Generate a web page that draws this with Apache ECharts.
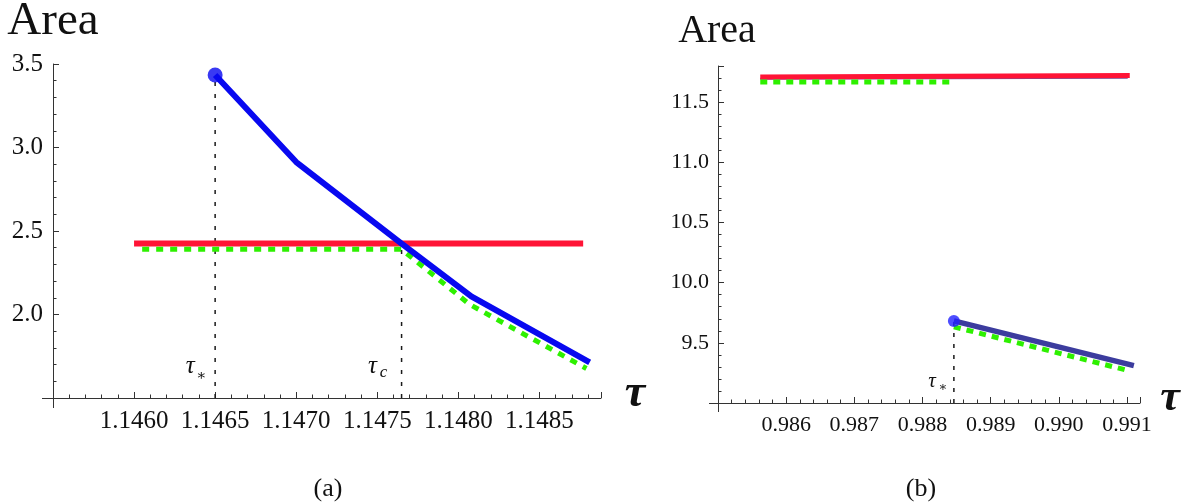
<!DOCTYPE html>
<html>
<head>
<meta charset="utf-8">
<script src="https://cdn.jsdelivr.net/npm/echarts@6/dist/echarts.min.js"></script>
<style>html,body{margin:0;padding:0;background:#fff;}#c{width:1182px;height:502px;}</style>
</head>
<body>
<div id="c"></div>
<script>
// ---------- Panel (a) data ----------
const aBlueX  = [1.1465, 1.1470, 1.14765, 1.14808, 1.14881];
const aBlueY  = [3.434, 2.913, 2.425, 2.108, 1.713];
const aRedX   = [1.1460, 1.14877];
const aRedY   = [2.425, 2.425];
const aGreenX = [1.14605, 1.14765, 1.14807, 1.14879];
const aGreenY = [2.39, 2.39, 2.06, 1.677];
const aTauStar = 1.1465;
const aTauStarTop = 3.434;
const aTauC = 1.14765;
const aTauCTop = 2.39;
const aXRange = [1.1455, 1.14888];
const aYRange = [1.5, 3.5];

// ---------- Panel (b) data ----------
const bRedX     = [0.98562, 0.99104];
const bRedY     = [11.708, 11.722];
const bUpBlueX  = [0.98562, 0.99101];
const bUpBlueY  = [11.695, 11.703];
const bUpGreenX = [0.98562, 0.98846];
const bUpGreenY = [11.668, 11.668];
const bLowBlueX = [0.98846, 0.99110];
const bLowBlueY = [9.682, 9.31];
const bLowGreenX = [0.98846, 0.99103];
const bLowGreenY = [9.633, 9.268];
const bTauStar = 0.98846;
const bTauStarTop = 9.682;
const bXRange = [0.985, 0.99119];
const bYRange = [9.0, 11.8];

const zip = (xs, ys) => xs.map((x, i) => [x, ys[i]]);
const FONT = "'Liberation Serif', 'DejaVu Serif', serif";
const AX = '#333';

function valAxis(gi, range, interval, digits, fs, showMax, margin) {
  return {
    type: 'value', gridIndex: gi, min: range[0], max: range[1], interval: interval,
    axisLine: { show: true, lineStyle: { color: AX, width: 1 } },
    axisTick: { show: true, inside: true, length: 6, lineStyle: { color: AX, width: 1 } },
    minorTick: { show: true, splitNumber: 5, length: 3.5, lineStyle: { color: AX, width: 1 } },
    splitLine: { show: false },
    axisLabel: {
      show: true, showMinLabel: false, showMaxLabel: showMax, margin: margin,
      color: '#111', fontFamily: FONT, fontSize: fs,
      formatter: v => Number(v).toFixed(digits)
    }
  };
}

const option = {
  animation: false,
  backgroundColor: '#fff',
  textStyle: { fontFamily: FONT },
  grid: [
    { left: 53, top: 64, width: 548, height: 334 },
    { left: 718, top: 66, width: 422, height: 337 }
  ],
  xAxis: [
    valAxis(0, aXRange, 0.0005, 4, 25, false, 11),
    valAxis(1, bXRange, 0.001, 3, 22, false, 11)
  ],
  yAxis: [
    valAxis(0, aYRange, 0.5, 1, 25, true, 10),
    valAxis(1, bYRange, 0.5, 1, 22, false, 9)
  ],
  series: []
};

function line(gi, data, color, width, type, z) {
  return {
    type: 'line', xAxisIndex: gi, yAxisIndex: gi, data: data,
    showSymbol: false, symbol: 'none', silent: true, clip: false,
    lineStyle: { color: color, width: width, type: type || 'solid', cap: 'butt' },
    z: z || 2
  };
}
const RED = '#ff1436', GREEN = '#2ef000', BLUE = '#0808f0', DBLUE = '#3c3c9e';

option.series.push(
  line(0, [[aTauStar, aYRange[0]], [aTauStar, aTauStarTop]], '#1a1a1a', 1.5, [4, 8], 1),
  line(0, [[aTauC, aYRange[0]], [aTauC, aTauCTop]], '#1a1a1a', 1.5, [4, 8], 1),
  line(0, zip(aRedX, aRedY), RED, 6, 'solid', 2),
  line(0, zip(aGreenX, aGreenY), GREEN, 5, [7, 7], 3),
  line(0, zip(aBlueX, aBlueY), BLUE, 6, 'solid', 4),
  { type: 'scatter', xAxisIndex: 0, yAxisIndex: 0, data: [[aBlueX[0], aBlueY[0]]],
    symbol: 'circle', symbolSize: 15, itemStyle: { color: BLUE }, silent: true, z: 5 },

  line(1, [[bTauStar, bYRange[0]], [bTauStar, bTauStarTop]], '#1a1a1a', 1.5, [4, 7], 1),
  line(1, zip(bUpBlueX, bUpBlueY), '#7a4e96', 2, 'solid', 2),
  line(1, zip(bRedX, bRedY), RED, 5, 'solid', 3),
  line(1, zip(bUpGreenX, bUpGreenY), GREEN, 5, [7, 6], 4),
  line(1, zip(bLowGreenX, bLowGreenY), GREEN, 5, [7, 6], 3),
  line(1, zip(bLowBlueX, bLowBlueY), DBLUE, 5.5, 'solid', 4),
  { type: 'scatter', xAxisIndex: 1, yAxisIndex: 1, data: [[bLowBlueX[0], bLowBlueY[0]]],
    symbol: 'circle', symbolSize: 12, itemStyle: { color: '#2222ff' }, silent: true, z: 5 }
);

const chart = echarts.init(document.getElementById('c'), null, { renderer: 'canvas' });
chart.setOption(option);

function px(gi, pt) { return chart.convertToPixel({ xAxisIndex: gi, yAxisIndex: gi }, pt); }
function txt(x, y, text, fs, extra) {
  return { type: 'text', x: x, y: y, silent: true, z: 10,
    style: Object.assign({ text: text, fontFamily: FONT, fontSize: fs, fill: '#111',
      align: 'center', verticalAlign: 'middle' }, extra || {}) };
}
function seg(x1, y1, x2, y2) {
  return { type: 'line', silent: true, z: 10, shape: { x1: x1, y1: y1, x2: x2, y2: y2 },
    style: { stroke: AX, lineWidth: 1 } };
}

const aO = px(0, [aXRange[0], aYRange[0]]);
const aE = px(0, [aXRange[1], aYRange[0]]);
const bO = px(1, [bXRange[0], bYRange[0]]);
const bE = px(1, [bXRange[1], bYRange[0]]);
const aTs = px(0, [aTauStar, aYRange[0]]);
const aTc = px(0, [aTauC, aYRange[0]]);
const bTs = px(1, [bTauStar, bYRange[0]]);

const g = [
  seg(aO[0] - 11, aO[1] + 0.5, aO[0], aO[1] + 0.5),
  seg(aO[0] + 0.5, aO[1], aO[0] + 0.5, aO[1] + 10),
  seg(bO[0] - 9, bO[1] + 0.5, bO[0], bO[1] + 0.5),
  seg(bO[0] + 0.5, bO[1], bO[0] + 0.5, bO[1] + 9),
  txt(53, 22, 'Area', 47),
  txt(717, 31, 'Area', 40),
  txt(aE[0] + 34, aE[1] - 4, 'τ', 46, { fontStyle: 'italic', fontWeight: 'bold' }),
  txt(bE[0] + 30, bE[1] - 4, 'τ', 44, { fontStyle: 'italic', fontWeight: 'bold' }),
  txt(aTs[0] - 25, aTs[1] - 32, 'τ', 25, { fontStyle: 'italic' }),
  txt(aTs[0] - 14, aTs[1] - 22, '∗', 15),
  txt(aTc[0] - 29, aTc[1] - 32, 'τ', 25, { fontStyle: 'italic' }),
  txt(aTc[0] - 18, aTc[1] - 25, 'c', 17, { fontStyle: 'italic' }),
  txt(bTs[0] - 22, bTs[1] - 22, 'τ', 21, { fontStyle: 'italic' }),
  txt(bTs[0] - 11, bTs[1] - 15, '∗', 13),
  txt(328, 489, '(a)', 26),
  txt(921, 489, '(b)', 26)
];
chart.setOption({ graphic: g });
</script>
</body>
</html>
